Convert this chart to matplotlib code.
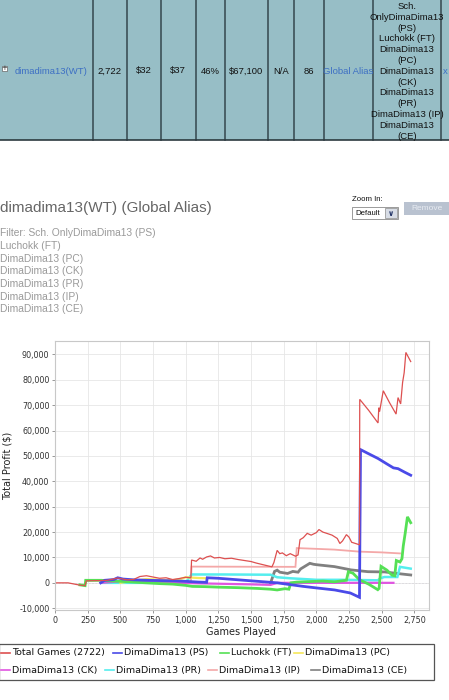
import matplotlib.pyplot as plt
from matplotlib.patches import Rectangle
from matplotlib.ticker import FuncFormatter, MultipleLocator

W, H = 449, 700

# ---- table row above the chart
player = "dimadima13(WT)"
row_values = ["2,722", "$32", "$37", "46%", "$67,100", "N/A", "86"]
alias_type = "Global Alias"
alias_list = ["Sch.", "OnlyDimaDima13", "(PS)", "Luchokk (FT)", "DimaDima13", "(PC)",
              "DimaDima13", "(CK)", "DimaDima13", "(PR)", "DimaDima13 (IP)",
              "DimaDima13", "(CE)"]

# ---- chart header
title = "dimadima13(WT) (Global Alias)"
filter_lines = ["Filter: Sch. OnlyDimaDima13 (PS)", "Luchokk (FT)", "DimaDima13 (PC)",
                "DimaDima13 (CK)", "DimaDima13 (PR)", "DimaDima13 (IP)", "DimaDima13 (CE)"]

# ---- series (games played, total profit $)
total_games = [0, 100, 150, 190, 230, 240, 350, 400, 480, 550, 600, 650, 700, 750, 800, 850,
               900, 950, 1000, 1040, 1045, 1080, 1110, 1130, 1160, 1190, 1220, 1260, 1300,
               1350, 1400, 1450, 1500, 1540, 1580, 1620, 1660, 1675, 1700, 1720, 1740, 1770,
               1800, 1840, 1860, 1875, 1900, 1930, 1960, 2000, 2020, 2050, 2080, 2120, 2160,
               2180, 2200, 2230, 2250, 2270, 2300, 2330, 2332, 2400, 2472, 2478, 2484, 2512,
               2560, 2610, 2625, 2645, 2660, 2672, 2685, 2722]
total_profit = [0, 0, -500, -900, -1100, 800, 900, 1000, 1900, 1200, 1300, 2500, 2800, 2300,
                1800, 2000, 1300, 1700, 2200, 2000, 9000, 8500, 9800, 9300, 10200, 10600, 9800,
                10000, 9500, 9700, 9200, 8800, 8400, 7800, 7300, 6800, 6300, 8000, 12800,
                11500, 11800, 10700, 11500, 10500, 11000, 17000, 17800, 19500, 18800, 19800,
                21000, 20000, 19500, 18800, 17500, 15500, 16500, 19000, 18000, 16000, 15500,
                15000, 72300, 68000, 63000, 69000, 67500, 75700, 71000, 66500, 73000, 70500,
                79000, 82800, 90800, 87200]

ps_games = [350, 380, 450, 480, 520, 600, 700, 800, 900, 1000, 1100, 1160, 1165, 1250, 1400,
            1550, 1700, 1800, 1900, 2000, 2140, 2260, 2330, 2338, 2395, 2472, 2548, 2590,
            2625, 2676, 2722]
ps_profit = [0, 1000, 1300, 2000, 1500, 1200, 1000, 900, 800, 600, 300, 200, 2000, 1800, 1200,
             600, 0, -700, -1400, -2000, -2800, -4000, -5700, 52500, 51000, 49000, 46600,
             45300, 45000, 43600, 42400]

ft_games = [190, 230, 235, 356, 400, 500, 600, 700, 800, 900, 1000, 1050, 1150, 1250, 1400,
            1550, 1650, 1700, 1760, 1790, 1805, 1850, 1950, 2050, 2138, 2230, 2245, 2280,
            2330, 2400, 2470, 2480, 2495, 2540, 2580, 2600, 2612, 2640, 2655, 2665, 2680,
            2697, 2710, 2722]
ft_profit = [-800, -1100, 1000, 1000, 800, 600, 300, 0, -300, -500, -1000, -1400, -1500,
             -1700, -1900, -2200, -2500, -2800, -2300, -2500, 0, 300, 500, 700, 400, 1000,
             4400, 3800, 1200, -500, -2700, -2200, 6500, 5000, 3000, 2800, 8800, 8200, 9500,
             14500, 19600, 26000, 24800, 23700]

pc_games = [500, 600, 700, 800, 900, 960, 1000, 1100, 1160]
pc_profit = [0, 800, 1500, 1200, 1000, 1500, 2200, 1900, 1800]

ck_games = [350, 500, 700, 900, 1100, 1300, 1500, 1650, 1700, 2200, 2590]
ck_profit = [0, 600, 300, 0, -200, -400, -600, -800, 0, 0, 0]

pr_games = [370, 1000, 1045, 1300, 1650, 1700, 1800, 1900, 2000, 2200, 2470, 2490, 2520,
            2620, 2640, 2722]
pr_profit = [0, 0, 3300, 3300, 3200, 2200, 1800, 1500, 1200, 1200, 1000, 1800, 2300, 2300,
             6300, 5600]

ip_games = [900, 1040, 1045, 1840, 1850, 2000, 2138, 2330, 2500, 2640]
ip_profit = [0, 0, 6400, 6300, 13700, 13400, 13100, 12300, 12000, 11600]

ce_games = [1650, 1680, 1700, 1720, 1780, 1820, 1860, 1880, 1950, 1980, 2010, 2138, 2266,
            2395, 2523, 2651, 2722]
ce_profit = [0, 4500, 5000, 4200, 3700, 4500, 4200, 5500, 7700, 7300, 7100, 6400, 5100, 4400,
             4300, 3500, 3100]

series = [
    ("Total Games (2722)", total_games, total_profit, "#dd5050", 0.9),
    ("DimaDima13 (PS)", ps_games, ps_profit, "#4a4ae8", 2.0),
    ("Luchokk (FT)", ft_games, ft_profit, "#55e055", 2.0),
    ("DimaDima13 (PC)", pc_games, pc_profit, "#f6e85a", 1.6),
    ("DimaDima13 (CK)", ck_games, ck_profit, "#e055e0", 1.6),
    ("DimaDima13 (PR)", pr_games, pr_profit, "#55eeee", 1.8),
    ("DimaDima13 (IP)", ip_games, ip_profit, "#f4a8a8", 1.3),
    ("DimaDima13 (CE)", ce_games, ce_profit, "#808080", 2.0),
]

html_font = "Liberation Sans"
fig = plt.figure(figsize=(W / 100, H / 100), dpi=100, facecolor="white")

# page layer in pixel coordinates
page = fig.add_axes([0, 0, 1, 1])
page.set_xlim(0, W)
page.set_ylim(H, 0)
page.axis("off")

# table row
page.add_patch(Rectangle((0, 0), W, 140, facecolor="#97bec6", edgecolor="none"))
for xb in [93, 127, 161, 196, 225, 268, 294, 324, 373, 441]:
    page.plot([xb, xb], [0, 140], color="#34474d", lw=1.1)
page.plot([0, W], [140, 140], color="#2c3a3f", lw=1.2)
page.add_patch(Rectangle((2, 66), 5, 5, facecolor="white", edgecolor="#666666", lw=0.5))
page.text(4.5, 68.5, "+", ha="center", va="center", fontsize=5, color="#333333")
page.text(15, 71, player, ha="left", va="center", fontsize=6.8, color="#3d6fc4",
          family=html_font)
for xc, txt in zip([110, 144, 178, 210, 246, 281, 309], row_values):
    page.text(xc, 71, txt, ha="center", va="center", fontsize=6.8, color="#111111",
              family=html_font)
page.text(348, 71, alias_type, ha="center", va="center", fontsize=6.8, color="#3d6fc4",
          family=html_font)
for i, txt in enumerate(alias_list):
    page.text(407, 6.5 + i * 10.8, txt, ha="center", va="center", fontsize=6.8,
              color="#111111", family=html_font)
page.text(443, 71, "x", ha="left", va="center", fontsize=6.8, color="#3d6fc4",
          family=html_font)

# header text
page.text(0.5, 208, title, ha="left", va="center", fontsize=11, color="#666666",
          family=html_font)
for i, txt in enumerate(filter_lines):
    page.text(0.5, 233.5 + i * 12.6, txt, ha="left", va="center", fontsize=7.4,
              color="#9a9a9a", family=html_font)

# zoom controls
page.text(352, 199.5, "Zoom In:", ha="left", va="center", fontsize=5.6, color="#111111",
          family=html_font)
page.add_patch(Rectangle((352, 207), 46, 12, facecolor="white", edgecolor="#8a8a8a", lw=0.6))
page.text(355, 213.5, "Default", ha="left", va="center", fontsize=5.6, color="#111111",
          family=html_font)
page.add_patch(Rectangle((385, 208), 12, 10, facecolor="#d8dde6", edgecolor="#8a8a8a", lw=0.5))
page.text(391, 213, "\u2228", ha="center", va="center", fontsize=5.5, color="#223366",
          fontweight="bold")
page.add_patch(Rectangle((404, 202), 47, 13, facecolor="#b9c2d0", edgecolor="none"))
page.text(427, 208.5, "Remove", ha="center", va="center", fontsize=6, color="#e8ecf2",
          family=html_font)

# ---- chart
left, right, top, bottom = 55, 429, 341, 610
ax = fig.add_axes([left / W, 1 - bottom / H, (right - left) / W, (bottom - top) / H])
ax.set_facecolor("white")
for name, gx, gy, col, lw in reversed(series):
    ax.plot(gx, gy, color=col, lw=lw, solid_joinstyle="miter")
ax.axhline(0, color="#9a8aa8", lw=0.6, ls=(0, (2, 2)), zorder=0.5)

ax.set_xlim(0, 2862)
ax.set_ylim(-10700, 95300)
ax.xaxis.set_major_locator(MultipleLocator(250))
ax.yaxis.set_major_locator(MultipleLocator(10000))
fmt = FuncFormatter(lambda v, p: f"{int(v):,}")
ax.xaxis.set_major_formatter(fmt)
ax.yaxis.set_major_formatter(fmt)
ax.grid(True, color="#e6e6e6", lw=0.6)
ax.set_axisbelow(True)
for s in ax.spines.values():
    s.set_color("#c8c8c8")
    s.set_linewidth(0.8)
ax.tick_params(labelsize=5.8, length=2, width=0.6, color="#888888", labelcolor="#333333",
               pad=2)

fig.text(8 / W, 1 - 466 / H, "Total Profit ($)", rotation=90, ha="center", va="center",
         fontsize=7, color="#222222")
fig.text(241 / W, 1 - 632 / H, "Games Played", ha="center", va="center", fontsize=7,
         color="#222222")

# ---- legend
page.add_patch(Rectangle((-1, 644), 435, 36, facecolor="white", edgecolor="#555555", lw=0.9))
leg_pos = [(1, 653), (113, 653), (220, 653), (294, 653),
           (1, 670), (105, 670), (208, 670), (311, 670)]
for (name, gx, gy, col, lw), (lx, ly) in zip(series, leg_pos):
    page.plot([lx, lx + 9], [ly, ly], color=col, lw=1.2)
    page.text(lx + 11, ly, name, ha="left", va="center", fontsize=6.8, color="#111111")

fig.savefig("out.png", dpi=100, facecolor="white")
